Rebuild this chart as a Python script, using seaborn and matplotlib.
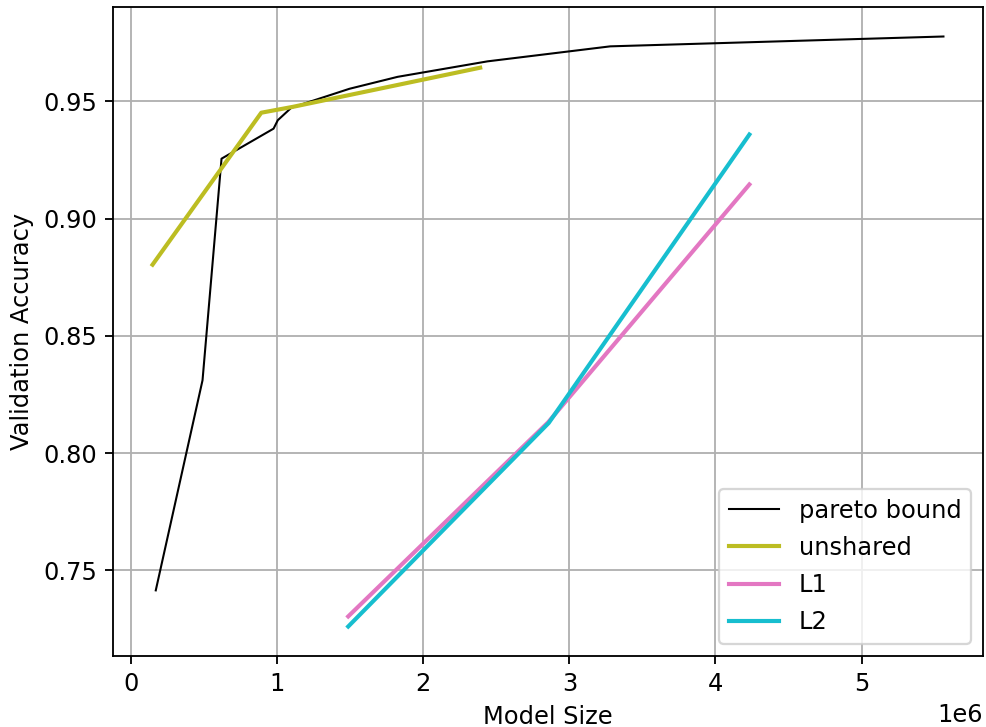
import matplotlib
matplotlib.use("Agg")
import matplotlib.pyplot as plt
import seaborn as sns
import pandas as pd

pareto_x = [0.17e6, 0.49e6, 0.62e6, 0.976e6, 1.005e6, 1.097e6, 1.495e6, 1.825e6, 2.44e6, 3.28e6, 5.56e6]
pareto_y = [0.7415, 0.8311, 0.9256, 0.9384, 0.9420, 0.9473, 0.9554, 0.9605, 0.9671, 0.9735, 0.9777]

unshared_x = [0.148e6, 0.892e6, 1.108e6, 2.39e6]
unshared_y = [0.8804, 0.9452, 0.9477, 0.9644]

l1_x = [1.487e6, 2.855e6, 4.232e6]
l1_y = [0.7304, 0.8132, 0.9146]

l2_x = [1.487e6, 2.859e6, 4.232e6]
l2_y = [0.7261, 0.8129, 0.9359]

plt.rcParams["font.size"] = 10.5

DPI = 165
fig = plt.figure(figsize=(986 / DPI, 727 / DPI), dpi=DPI)
ax = fig.add_axes([113 / 986, 1 - 656 / 727, (983 - 113) / 986, (656 - 7) / 727])

series = [
    ("pareto bound", pareto_x, pareto_y, "black", 0.9),
    ("unshared", unshared_x, unshared_y, "#bcbd22", 1.8),
    ("L1", l1_x, l1_y, "#e377c2", 1.8),
    ("L2", l2_x, l2_y, "#17becf", 1.8),
]
for name, xs, ys, c, lw in series:
    df = pd.DataFrame({"x": xs, "y": ys})
    sns.lineplot(data=df, x="x", y="y", ax=ax, color=c, linewidth=lw,
                 label=name, estimator=None, sort=False)

ax.grid(True)
ax.set_axisbelow(True)
ax.set_xlabel("Model Size")
ax.set_ylabel("Validation Accuracy")
ax.legend(loc="lower right", handlelength=2.1, labelspacing=0.55)
fig.savefig("out.png", dpi=DPI)
